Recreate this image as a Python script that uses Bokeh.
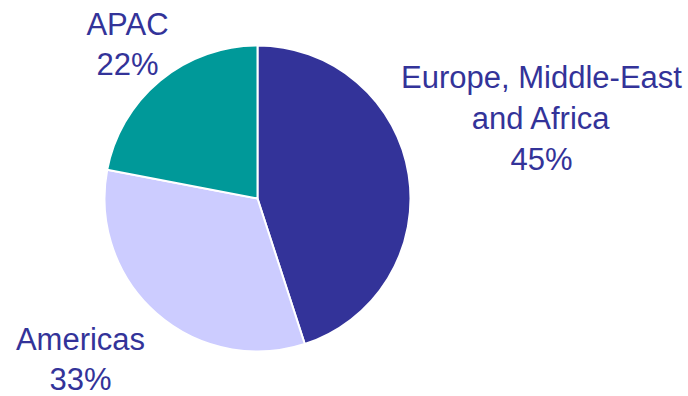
import math
from bokeh.plotting import figure
from bokeh.models import Range1d, ColumnDataSource
from bokeh.core.properties import value
from bokeh.embed import file_html
from bokeh.resources import INLINE

# data
regions = ["Europe, Middle-East\nand Africa", "Americas", "APAC"]
shares = [45, 33, 22]
colors = ["#333399", "#CCCCFF", "#009999"]

W, H = 688, 396
cx, cy, r = 257, 198, 153

# angles: start at 12 o'clock, clockwise
total = sum(shares)
starts, ends = [], []
a = math.pi / 2
for s in shares:
    starts.append(a)
    a -= 2 * math.pi * s / total
    ends.append(a)

src = ColumnDataSource(dict(start=starts, end=ends, color=colors,
                            x=[cx] * 3, y=[cy] * 3))

p = figure(width=W, height=H, output_backend="svg", toolbar_location=None,
           x_range=Range1d(0, W), y_range=Range1d(0, H), min_border=0)
p.axis.visible = False
p.grid.visible = False
p.outline_line_color = None
p.background_fill_color = "white"
p.border_fill_color = "white"

p.wedge(x="x", y="y", radius=r, start_angle="start", end_angle="end",
        direction="clock", fill_color="color", line_color="white",
        line_width=2, source=src)

labels = [f"{n}\n{s}%" for n, s in zip(regions, shares)]
lx = [541, 80, 127]
ly = [278, 37, 352]
p.text(x=lx, y=ly, text=labels, text_align="center", text_baseline="middle",
       text_font=value("Liberation Sans"), text_font_size="31px",
       text_color="#333399", text_line_height=1.16)

open("out.html", "w").write(file_html(p, INLINE))
